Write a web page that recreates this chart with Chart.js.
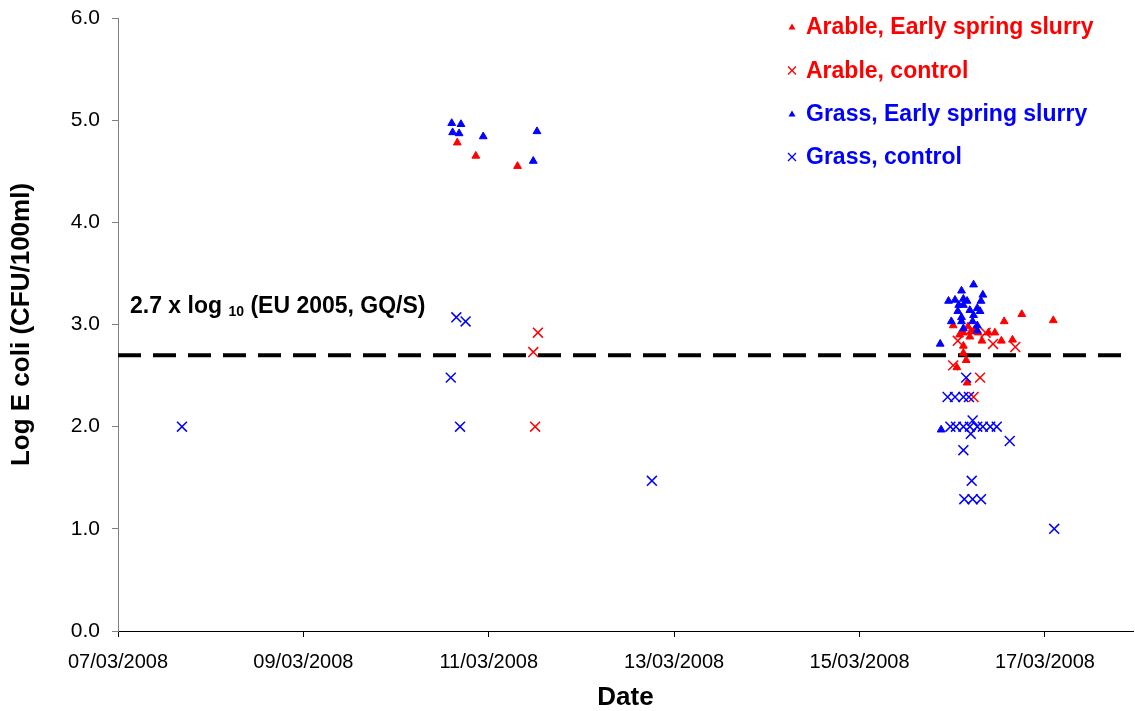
<!DOCTYPE html>
<html>
<head>
<meta charset="utf-8">
<script src="https://cdn.jsdelivr.net/npm/chart.js@4.4.1/dist/chart.umd.min.js"></script>
<style>
  html, body { margin: 0; padding: 0; background: #fff; }
  #wrap { width: 1135px; height: 711px; }
</style>
</head>
<body>
<div id="wrap"><canvas id="myChart" width="1135" height="711"></canvas></div>
<script>
// x values are days after 07/03/2008
const xTickDays = [0, 2, 4, 6, 8, 10];
const xTickLabels = ['07/03/2008', '09/03/2008', '11/03/2008', '13/03/2008', '15/03/2008', '17/03/2008'];
const yTicks = [0, 1, 2, 3, 4, 5, 6];
const xMax = 10.95;
const guideValue = 2.7;

const seriesNames = ['Arable, Early spring slurry', 'Arable, control', 'Grass, Early spring slurry', 'Grass, control'];
const seriesColors = ['#ff0000', '#ff0000', '#0000ff', '#0000ff'];

const arableSlurryDay = [3.66, 3.86, 4.31, 9.01, 9.12, 9.19, 9.32, 9.39, 9.46, 9.53, 9.65, 9.56, 9.75,
  9.12, 9.12, 9.15, 9.05, 9.16, 10.09, 9.17, 9.24, 9.08, 9.20, 9.28];
const arableSlurryLog = [4.78, 4.65, 4.55, 2.99, 2.92, 2.88, 2.84, 2.92, 2.92, 2.84, 2.85, 3.03, 3.10,
  2.79, 2.72, 2.65, 2.58, 2.43, 3.04, 2.98, 2.95, 2.90, 2.93, 2.92];

const arableControlDay = [4.53, 4.48, 4.50, 9.06, 9.44, 9.68, 9.01, 9.30, 9.23, 9.36];
const arableControlLog = [2.92, 2.73, 2.00, 2.84, 2.81, 2.78, 2.60, 2.48, 2.29, 2.92];

const grassSlurryDay = [3.60, 3.70, 3.61, 3.68, 3.94, 4.52, 4.48,
  9.23, 9.10, 9.33, 8.96, 9.03, 9.12, 9.16, 9.31, 9.07, 9.12, 9.27, 9.19, 9.06, 9.30,
  9.23, 9.10, 8.99, 9.10, 9.22, 9.27, 9.12, 9.27, 8.87, 8.88];
const grassSlurryLog = [4.97, 4.96, 4.88, 4.87, 4.84, 4.89, 4.60,
  3.39, 3.33, 3.29, 3.23, 3.24, 3.25, 3.23, 3.23, 3.19, 3.19, 3.16, 3.14, 3.13, 3.13,
  3.09, 3.07, 3.03, 3.03, 3.03, 2.99, 2.96, 2.94, 2.81, 1.97];

const grassControlDay = [0.69, 3.65, 3.75, 3.59, 3.69, 5.76, 10.10, 9.15,
  8.95, 9.03, 9.12, 9.18,
  8.98, 9.04, 9.12, 9.19, 9.27, 9.33, 9.41, 9.48,
  9.22, 9.20, 9.62, 9.12, 9.21, 9.13, 9.22, 9.31];
const grassControlLog = [2.00, 3.07, 3.03, 2.48, 2.00, 1.47, 1.00, 2.48,
  2.29, 2.29, 2.29, 2.29,
  2.00, 2.00, 2.00, 2.00, 2.00, 2.00, 2.00, 2.00,
  2.06, 1.93, 1.86, 1.77, 1.47, 1.29, 1.29, 1.29];

const FONT = '"Liberation Sans", Arial, sans-serif';

function points(xs, ys) {
  return xs.map((x, i) => ({ x: x, y: ys[i] }));
}

function triangleSet(label, color, xs, ys, order) {
  return {
    label: label, data: points(xs, ys), order: order,
    pointStyle: 'triangle', pointRadius: 4.5, pointBorderWidth: 1,
    backgroundColor: color, borderColor: color
  };
}

function crossSet(label, color, xs, ys, order) {
  return {
    label: label, data: points(xs, ys), order: order,
    pointStyle: 'crossRot', pointRadius: 7, pointBorderWidth: 1.5,
    backgroundColor: color, borderColor: color
  };
}

// legend + guide label drawn on top
const extrasPlugin = {
  id: 'extras',
  afterDraw(chart) {
    const c = chart.ctx;
    const area = chart.chartArea;
    c.save();
    // guide label with subscript
    c.fillStyle = '#000';
    c.textBaseline = 'alphabetic';
    c.textAlign = 'left';
    let tx = area.left + 12;
    const ty = 313;
    c.font = 'bold 23px ' + FONT;
    c.fillText('2.7 x log ', tx, ty);
    tx += c.measureText('2.7 x log ').width;
    c.font = 'bold 14px ' + FONT;
    c.fillText('10', tx, ty + 3);
    tx += c.measureText('10').width;
    c.font = 'bold 23px ' + FONT;
    c.fillText(' (EU 2005, GQ/S)', tx, ty);

    // legend
    const rowY = [27, 70.5, 114, 157];
    const mx = 792;
    c.font = 'bold 23px ' + FONT;
    seriesNames.forEach((name, i) => {
      const col = seriesColors[i];
      c.fillStyle = col;
      c.strokeStyle = col;
      const y = rowY[i];
      if (i % 2 === 0) {
        c.beginPath();
        c.moveTo(mx, y - 3.5);
        c.lineTo(mx + 3.5, y + 2.5);
        c.lineTo(mx - 3.5, y + 2.5);
        c.closePath();
        c.fill();
      } else {
        c.lineWidth = 1.3;
        c.beginPath();
        c.moveTo(mx - 4, y - 4); c.lineTo(mx + 4, y + 4);
        c.moveTo(mx + 4, y - 4); c.lineTo(mx - 4, y + 4);
        c.stroke();
      }
      c.textBaseline = 'middle';
      c.fillText(name, 806, y + 1);
    });
    c.restore();
  }
};

const ctx = document.getElementById('myChart').getContext('2d');

const myChart = new Chart(ctx, {
  type: 'scatter',
  data: {
    datasets: [
      {
        type: 'line', label: 'guide', order: 10,
        data: [{ x: 0, y: guideValue }, { x: xMax, y: guideValue }],
        borderColor: '#000', borderWidth: 4, borderDash: [23, 12],
        pointRadius: 0, fill: false
      },
      triangleSet(seriesNames[0], seriesColors[0], arableSlurryDay, arableSlurryLog, 3),
      crossSet(seriesNames[1], seriesColors[1], arableControlDay, arableControlLog, 2),
      triangleSet(seriesNames[2], seriesColors[2], grassSlurryDay, grassSlurryLog, 1),
      crossSet(seriesNames[3], seriesColors[3], grassControlDay, grassControlLog, 0)
    ]
  },
  options: {
    responsive: false,
    animation: false,
    devicePixelRatio: 1,
    layout: { autoPadding: false, padding: { top: 18, right: 2, bottom: 0, left: 0 } },
    plugins: {
      legend: { display: false },
      tooltip: { enabled: false }
    },
    scales: {
      x: {
        type: 'linear',
        min: 0,
        max: xMax,
        afterBuildTicks: (scale) => { scale.ticks = xTickDays.map(v => ({ value: v })); },
        afterFit: (scale) => { scale.height = 80; scale.paddingLeft = 0; scale.paddingRight = 0; },
        grid: { display: true, drawOnChartArea: false, drawTicks: true, tickLength: 6, color: '#000' },
        border: { display: true, color: '#000', width: 1 },
        ticks: {
          padding: 13,
          color: '#000',
          font: { family: FONT, size: 20 },
          maxRotation: 0,
          callback: (v) => xTickLabels[xTickDays.indexOf(v)]
        },
        title: {
          display: true, text: 'Date', color: '#000',
          font: { family: FONT, size: 26, weight: 'bold', lineHeight: 1 },
          padding: { top: 0, bottom: 0 }
        }
      },
      y: {
        min: 0,
        max: 6,
        afterBuildTicks: (scale) => { scale.ticks = yTicks.map(v => ({ value: v })); },
        afterFit: (scale) => { scale.width = 118; scale.paddingTop = 0; scale.paddingBottom = 0; },
        grid: { display: true, drawOnChartArea: false, drawTicks: true, tickLength: 6, color: '#808080' },
        border: { display: true, color: '#808080', width: 1 },
        ticks: {
          padding: 12,
          color: '#000',
          font: { family: FONT, size: 21 },
          callback: (v) => v.toFixed(1)
        },
        title: {
          display: true, text: 'Log E coli (CFU/100ml)', color: '#000',
          font: { family: FONT, size: 26, weight: 'bold', lineHeight: 1 },
          padding: { top: 9, bottom: 0 }
        }
      }
    }
  },
  plugins: [extrasPlugin]
});
</script>
</body>
</html>
